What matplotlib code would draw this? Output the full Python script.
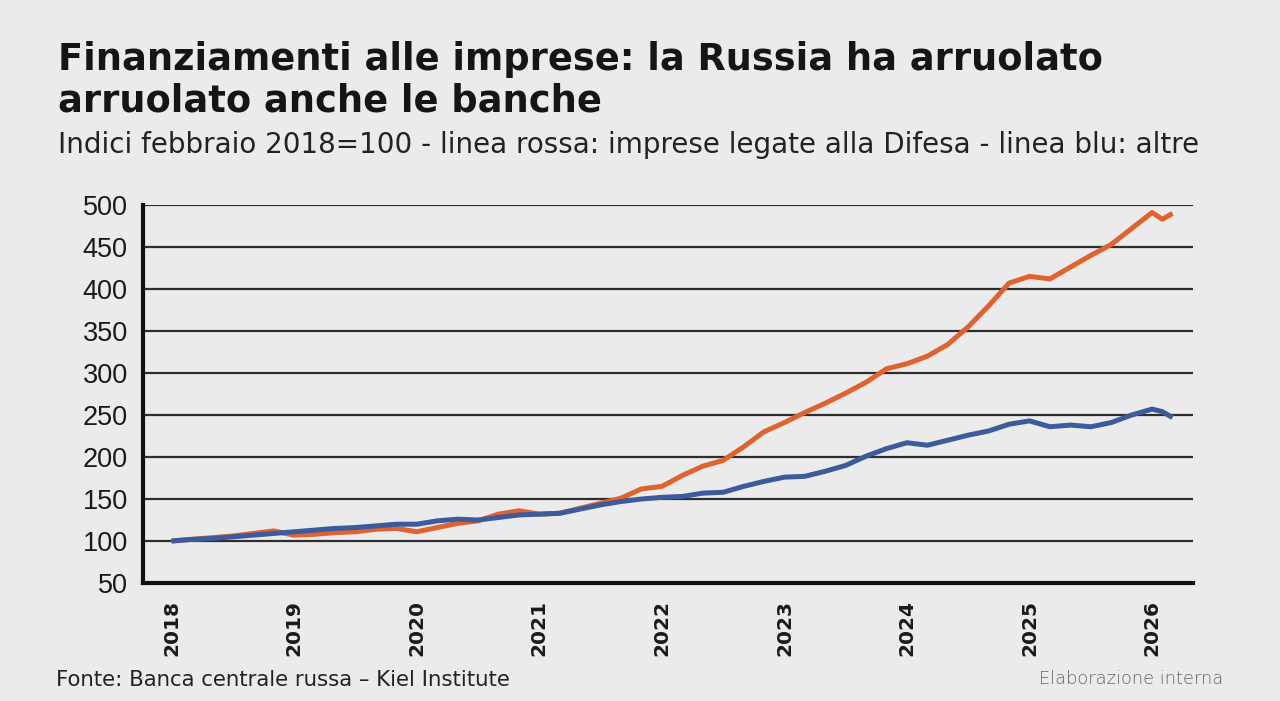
import matplotlib
matplotlib.use("Agg")
import matplotlib.pyplot as plt

# months since February 2018
months = [0, 2, 4, 6, 8, 10, 12, 14, 16, 18, 20, 22, 24, 26, 28, 30, 32, 34, 36, 38,
          40, 42, 44, 46, 48, 50, 52, 54, 56, 58, 60, 62, 64, 66, 68, 70, 72, 74, 76, 78,
          80, 82, 84, 86, 88, 90, 92, 94, 96, 97, 98]

# imprese legate alla Difesa (linea rossa)
difesa = [100, 102, 104, 106, 109, 112, 107, 108, 110, 111, 114, 115, 111, 116, 121, 124,
          132, 136, 132, 133, 139, 145, 151, 162, 165, 178, 189, 196, 212, 230, 241, 253,
          264, 276, 289, 305, 311, 320, 334, 355, 380, 407, 415, 412, 426, 440, 453, 472,
          491, 483, 490]

# altre imprese (linea blu)
altre = [100, 102, 103, 105, 107, 109, 111, 113, 115, 116, 118, 120, 120, 124, 126, 125,
         128, 131, 132, 133, 138, 143, 147, 150, 152, 153, 157, 158, 165, 171, 176, 177,
         183, 190, 201, 210, 217, 214, 220, 226, 231, 239, 243, 236, 238, 236, 241, 250,
         257, 254, 247]

year_labels = ["2018", "2019", "2020", "2021", "2022", "2023", "2024", "2025", "2026"]
year_ticks = [12 * i for i in range(len(year_labels))]
y_ticks = [50, 100, 150, 200, 250, 300, 350, 400, 450, 500]

bg = "#ebebeb"
fig = plt.figure(figsize=(12.8, 7.01), dpi=100, facecolor=bg)
ax = fig.add_axes([0.1117, 0.1683, 0.8203, 0.5393], facecolor=bg)

for v in y_ticks[1:]:
    ax.axhline(v, color="#2e2e2e", lw=1.6, zorder=1)

ax.plot(months, altre, color="#3b5b9c", lw=3.6, solid_capstyle="butt", zorder=3)
ax.plot(months, difesa, color="#e0622f", lw=3.6, solid_capstyle="butt", zorder=2)

ax.set_xlim(-2.8, 100)
ax.set_ylim(50, 500)
ax.set_yticks(y_ticks)
ax.set_yticklabels([str(v) for v in y_ticks], fontsize=19.5, family="Liberation Sans",
                   color="#1a1a1a")
ax.set_xticks(year_ticks)
ax.set_xticklabels(year_labels, rotation=90, fontsize=14.5, family="DejaVu Sans",
                   fontweight="bold", color="#1a1a1a")
ax.tick_params(axis="y", length=0, pad=11)
ax.tick_params(axis="x", length=0, pad=12)

for s in ["top", "right"]:
    ax.spines[s].set_visible(False)
for s in ["left", "bottom"]:
    ax.spines[s].set_linewidth(3)
    ax.spines[s].set_color("#111111")

fig.text(0.045, 0.915, "Finanziamenti alle imprese: la Russia ha arruolato",
         fontsize=26.5, fontweight="bold", family="DejaVu Sans", color="#151515", va="center")
fig.text(0.045, 0.856, "arruolato anche le banche",
         fontsize=26.5, fontweight="bold", family="DejaVu Sans", color="#151515", va="center")
fig.text(0.045, 0.793,
         "Indici febbraio 2018=100 - linea rossa: imprese legate alla Difesa - linea blu: altre",
         fontsize=20, family="DejaVu Sans", color="#222222", va="center")
fig.text(0.044, 0.030, "Fonte: Banca centrale russa \u2013 Kiel Institute",
         fontsize=15.3, family="DejaVu Sans", color="#222222", va="center")
fig.text(0.956, 0.032, "Elaborazione interna", fontsize=12.9, family="DejaVu Sans",
         fontweight="light", color="#666666", ha="right", va="center")

fig.savefig("out.png", dpi=100, facecolor=bg)
